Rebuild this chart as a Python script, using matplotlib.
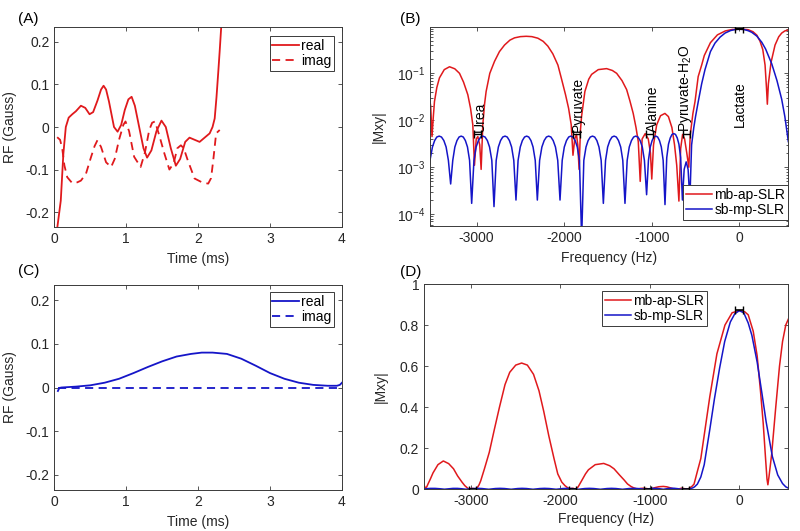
import matplotlib
matplotlib.use("Agg")
import matplotlib.pyplot as plt
import numpy as np

plt.rcParams['font.family'] = ['Liberation Sans', 'DejaVu Sans']
plt.rcParams['mathtext.fontset'] = 'custom'
plt.rcParams['mathtext.rm'] = 'Liberation Sans'
plt.rcParams['mathtext.it'] = 'Liberation Sans:italic'
plt.rcParams['axes.unicode_minus'] = False
plt.rcParams['font.size'] = 10

RED = '#e0191c'
BLUE = '#1515c8'
GRAY = '#3a3a3a'

# ---------------- Panel A: multiband pulse (real / imag) ----------------
tA_real = [0.03, 0.042, 0.09, 0.126, 0.16, 0.2, 0.25, 0.3, 0.37, 0.43, 0.49, 0.54, 0.6, 0.65,
           0.685, 0.72, 0.76, 0.83, 0.88, 0.93, 0.98, 1.03, 1.075, 1.12, 1.18, 1.24, 1.29,
           1.35, 1.42, 1.49, 1.55, 1.62, 1.69, 1.75, 1.82, 1.88, 1.95, 2.02, 2.09, 2.16,
           2.2, 2.23, 2.255, 2.28, 2.3, 2.33]
vA_real = [-0.26, -0.236, -0.173, -0.063, 0.0, 0.022, 0.03, 0.037, 0.05, 0.045, 0.03, 0.035,
           0.062, 0.088, 0.097, 0.088, 0.06, 0.0, -0.011, 0.005, 0.04, 0.065, 0.071, 0.05,
           0.0, -0.05, -0.072, -0.055, -0.01, 0.015, 0.0, -0.05, -0.091, -0.075, -0.035,
           -0.025, -0.03, -0.035, -0.025, -0.015, 0.0, 0.02, 0.07, 0.13, 0.18, 0.26]
tA_imag = [0.04, 0.08, 0.11, 0.14, 0.18, 0.25, 0.32, 0.37, 0.44, 0.51, 0.56, 0.6, 0.65, 0.72,
           0.79, 0.84, 0.9, 0.96, 0.99, 1.04, 1.11, 1.2, 1.26, 1.32, 1.36, 1.40, 1.46, 1.53,
           1.6, 1.66, 1.71, 1.76, 1.8, 1.855, 1.95, 2.065, 2.14, 2.18, 2.21, 2.25, 2.3]
vA_imag = [-0.024, -0.03, -0.05, -0.09, -0.118, -0.132, -0.13, -0.126, -0.11, -0.071, -0.045,
           -0.031, -0.047, -0.083, -0.094, -0.075, -0.03, 0.005, 0.013, -0.01, -0.07, -0.094,
           -0.06, -0.007, 0.01, 0.013, -0.02, -0.062, -0.1, -0.085, -0.05, -0.043, -0.05,
           -0.078, -0.121, -0.131, -0.133, -0.12, -0.078, -0.015, -0.007]

# ---------------- Panel C: single band pulse ----------------
tC_real = [0.05, 0.07, 0.1, 0.3, 0.5, 0.7, 0.9, 1.1, 1.3, 1.5, 1.7, 1.9, 2.05, 2.2, 2.4, 2.6,
           2.8, 3.0, 3.2, 3.4, 3.6, 3.8, 3.93, 3.97, 4.0]
vC_real = [-0.008, -0.001, 0.0, 0.002, 0.005, 0.011, 0.02, 0.033, 0.047, 0.06, 0.071, 0.077,
           0.08, 0.08, 0.077, 0.066, 0.05, 0.033, 0.02, 0.011, 0.006, 0.004, 0.004, 0.006, 0.011]
tC_imag = [0.05, 3.95]
vC_imag = [0.0, 0.0]

# ---------------- Panels B / D: frequency profiles ----------------
f_red = [-3540, -3525, -3510, -3495, -3482, -3455, -3425, -3370, -3310, -3250,
         -3196, -3150, -3101, -3070, -3044, -3025, -3005, -2987, -2965, -2949,
         -2930, -2910, -2892, -2850, -2796, -2740, -2682, -2620, -2567, -2500,
         -2434, -2370, -2301, -2240, -2187, -2130, -2072, -2030, -1985, -1950,
         -1920, -1900, -1880, -1860, -1845, -1830, -1815, -1802, -1764, -1720,
         -1687, -1611, -1516, -1450, -1401, -1340, -1287, -1250, -1212, -1180,
         -1154, -1132, -1110, -1075, -1040, -1015, -1000, -980, -944, -900,
         -850, -810, -770, -740, -715, -690, -670, -648, -625, -600,
         -577, -560, -530, -506, -470, -430, -400, -330, -250, -160,
         -80, 0, 60, 100, 156, 200, 237, 268, 294, 310,
         320, 332, 362, 408, 450, 484, 520, 560]
v_red = [0.03, 0.02, 0.0045, 0.012, 0.025, 0.05, 0.08, 0.12, 0.138, 0.125,
         0.1, 0.065, 0.035, 0.018, 0.008, 0.0011, 0.004, 0.0045, 0.003, 0.0009,
         0.008, 0.022, 0.041, 0.1, 0.18, 0.29, 0.40, 0.51, 0.57, 0.605,
         0.615, 0.605, 0.56, 0.48, 0.38, 0.26, 0.15, 0.075, 0.035, 0.018,
         0.008, 0.0018, 0.004, 0.005, 0.003, 0.0009, 0.006, 0.012, 0.041, 0.075,
         0.095, 0.12, 0.126, 0.115, 0.1, 0.07, 0.045, 0.026, 0.014, 0.007,
         0.0035, 0.0005, 0.004, 0.0052, 0.004, 0.002, 0.00056, 0.003, 0.008, 0.0125,
         0.014, 0.012, 0.007, 0.003, 0.0011, 0.00019, 0.0025, 0.005, 0.004, 0.002,
         0.001, 0.005, 0.014, 0.025, 0.085, 0.15, 0.24, 0.45, 0.66, 0.80,
         0.86, 0.87, 0.865, 0.85, 0.77, 0.65, 0.48, 0.32, 0.15, 0.05,
         0.022, 0.06, 0.17, 0.40, 0.6, 0.72, 0.8, 0.84]

f_blue = [-3540, -3505, -3480, -3455, -3428, -3402, -3375, -3349, -3323, -3297,
          -3273, -3249, -3225, -3201, -3177, -3153, -3129, -3105, -3081, -3057,
          -3031, -3006, -2980, -2955, -2930, -2904, -2878, -2853, -2827, -2802,
          -2777, -2752, -2727, -2702, -2676, -2651, -2626, -2601, -2576, -2551,
          -2527, -2502, -2478, -2453, -2429, -2405, -2380, -2356, -2331, -2307,
          -2281, -2255, -2229, -2203, -2178, -2152, -2126, -2100, -2074, -2048,
          -2023, -1999, -1974, -1949, -1925, -1900, -1875, -1851, -1826, -1801,
          -1776, -1751, -1727, -1702, -1677, -1652, -1627, -1603, -1578, -1553,
          -1528, -1504, -1479, -1454, -1430, -1405, -1380, -1355, -1331, -1306,
          -1281, -1257, -1232, -1207, -1183, -1158, -1133, -1108, -1084, -1059,
          -1038, -1017, -996, -975, -954, -933, -912, -891, -870, -849,
          -829, -809, -789, -769, -749, -729, -709, -690, -670, -650,
          -630, -607, -585, -565,
          -545, -520, -500, -469, -430, -392, -330, -278, -220, -163, -100, -50,
          0, 50, 100, 141, 200, 256, 300, 370, 430, 484, 520, 560]
v_blue = [0.0012, 0.0027, 0.0037, 0.0044, 0.0046, 0.0044, 0.0037, 0.0027, 0.0014, 0.00044,
          0.0014, 0.0027, 0.0037, 0.0044, 0.0046, 0.0044, 0.0037, 0.0027, 0.0014, 0.00017,
          0.0014, 0.0027, 0.0037, 0.0044, 0.0046, 0.0044, 0.0037, 0.0027, 0.0014, 0.000145,
          0.0014, 0.0027, 0.0037, 0.0044, 0.0046, 0.0044, 0.0037, 0.0027, 0.0014, 0.0002,
          0.0014, 0.0027, 0.0037, 0.0044, 0.0046, 0.0044, 0.0037, 0.0027, 0.0014, 0.0002,
          0.0014, 0.0027, 0.0037, 0.0044, 0.0046, 0.0044, 0.0037, 0.0027, 0.0014, 0.0002,
          0.0014, 0.0027, 0.0037, 0.0044, 0.0046, 0.0044, 0.0037, 0.0027, 0.0014, 0.00003,
          0.0014, 0.0027, 0.0037, 0.0044, 0.0046, 0.0044, 0.0037, 0.0027, 0.0014, 0.00017,
          0.0014, 0.0027, 0.0037, 0.0044, 0.0046, 0.0044, 0.0037, 0.0027, 0.0014, 0.00017,
          0.0014, 0.0027, 0.0037, 0.0044, 0.0046, 0.0044, 0.0037, 0.0027, 0.0014, 0.00026,
          0.0014, 0.0027, 0.0037, 0.0044, 0.0046, 0.0044, 0.0037, 0.0027, 0.0014, 0.00016,
          0.0016, 0.0031, 0.0042, 0.0050, 0.0052, 0.0050, 0.0042, 0.0031, 0.0016, 0.0002,
          0.0009, 0.0013, 0.0009, 0.0002,
          0.003, 0.007, 0.012, 0.025, 0.06, 0.12, 0.29, 0.44, 0.59, 0.72, 0.815, 0.855,
          0.87, 0.86, 0.81, 0.75, 0.62, 0.46, 0.33, 0.16, 0.07, 0.028, 0.012, 0.0035]

# metabolite stop-bands and passband
band_names = ['Urea', 'Pyruvate', 'Alanine', 'Pyruvate-H$_2$O']
band_lo = [-3025, -1903, -1065, -645]
band_hi = [-2950, -1825, -985, -565]
label_x = [-2960, -1844, -988, -610]
stop_level = 0.005
pass_name = 'Lactate'
pass_lo, pass_hi = -45, 45
pass_level = 0.875


def style(ax):
    ax.tick_params(direction='in', which='both', top=True, right=True,
                   colors=GRAY, labelcolor='#262626', labelsize=10, width=0.6)
    ax.tick_params(which='major', length=3.2)
    ax.tick_params(which='minor', length=1.8)
    for s in ax.spines.values():
        s.set_color(GRAY)
        s.set_linewidth(0.7)


def legend(ax, handles, labels, loc, anchor):
    lg = ax.legend(handles, labels, loc=loc, bbox_to_anchor=anchor, borderaxespad=0,
                   fancybox=False, framealpha=1, edgecolor=GRAY, fontsize=10,
                   handlelength=1.9, handletextpad=0.15, borderpad=0.2, labelspacing=0.1)
    lg.get_frame().set_linewidth(0.7)
    return lg


fig = plt.figure(figsize=(8, 5.31), dpi=100)
W, H = 800.0, 531.0
axA = fig.add_axes([54.3 / W, (H - 227) / H, 287.7 / W, 200 / H])
axB = fig.add_axes([430 / W, (H - 226) / H, 358 / W, 199 / H])
axC = fig.add_axes([54.3 / W, (H - 490) / H, 287.7 / W, 205 / H])
axD = fig.add_axes([424 / W, (H - 489.3) / H, 364 / W, 205.3 / H])

# --- A
lA1, = axA.plot(tA_real, vA_real, color=RED, lw=1.3)
lA2, = axA.plot(tA_imag, vA_imag, color=RED, lw=1.3, dashes=(4.5, 3))
axA.set_xlim(0, 4)
axA.set_ylim(-0.235, 0.235)
axA.set_xticks([0, 1, 2, 3, 4])
axA.set_yticks([-0.2, -0.1, 0, 0.1, 0.2])
axA.set_yticklabels(['-0.2', '-0.1', '0', '0.1', '0.2'])
axA.set_xlabel('Time (ms)', color='#262626')
axA.set_ylabel('RF (Gauss)', color='#262626')
axA.xaxis.set_label_coords(0.5, -0.125)
axA.yaxis.set_label_coords(-0.13, 0.5)
style(axA)
legend(axA, [lA1, lA2], ['real', 'imag'], 'upper right', (0.972, 0.955))

# --- C
lC1, = axC.plot(tC_real, vC_real, color=BLUE, lw=1.3)
lC2, = axC.plot(tC_imag, vC_imag, color=BLUE, lw=1.3, dashes=(4.5, 3))
axC.set_xlim(0, 4)
axC.set_ylim(-0.235, 0.235)
axC.set_xticks([0, 1, 2, 3, 4])
axC.set_yticks([-0.2, -0.1, 0, 0.1, 0.2])
axC.set_yticklabels(['-0.2', '-0.1', '0', '0.1', '0.2'])
axC.set_xlabel('Time (ms)', color='#262626')
axC.set_ylabel('RF (Gauss)', color='#262626')
axC.xaxis.set_label_coords(0.5, -0.122)
axC.yaxis.set_label_coords(-0.13, 0.5)
style(axC)
legend(axC, [lC1, lC2], ['real', 'imag'], 'upper right', (0.972, 0.966))

# --- B (log)
lB1, = axB.plot(f_red, v_red, color=RED, lw=1.1)
lB2, = axB.plot(f_blue, v_blue, color=BLUE, lw=1.1)
axB.set_yscale('log')
axB.set_xlim(-3533, 556)
axB.set_ylim(5.6e-5, 0.97)
axB.set_xticks([-3000, -2000, -1000, 0])
axB.set_xticklabels(['-3000', '-2000', '-1000', '0'])
axB.set_yticks([1e-4, 1e-3, 1e-2, 1e-1])
for lo, hi in zip(band_lo, band_hi):
    axB.errorbar([(lo + hi) / 2], [stop_level], xerr=[(hi - lo) / 2], fmt='none',
                 ecolor='k', elinewidth=1.0, capsize=3, capthick=1.0, zorder=4)
axB.errorbar([(pass_lo + pass_hi) / 2], [pass_level], xerr=[(pass_hi - pass_lo) / 2],
             fmt='none', ecolor='k', elinewidth=1.5, capsize=3, capthick=1.0, zorder=4)
for name, x in zip(band_names, label_x):
    axB.text(x, stop_level * 1.12, name, rotation=90, ha='center', va='bottom',
             fontsize=10, color='k')
axB.text(8, 0.0072, pass_name, rotation=90, ha='center', va='bottom', fontsize=10, color='k')
axB.set_xlabel('Frequency (Hz)', color='#262626')
axB.set_ylabel('|Mxy|', color='#262626')
axB.xaxis.set_label_coords(0.5, -0.125)
axB.yaxis.set_label_coords(-0.123, 0.5)
style(axB)
legend(axB, [lB1, lB2], ['mb-ap-SLR', 'sb-mp-SLR'], 'lower right', (1.0, 0.03))

# --- D (linear)
lD1, = axD.plot(f_red, v_red, color=RED, lw=1.1)
lD2, = axD.plot(f_blue, v_blue, color=BLUE, lw=1.1)
axD.set_xlim(-3526, 545)
axD.set_ylim(0, 1)
axD.set_xticks([-3000, -2000, -1000, 0])
axD.set_xticklabels(['-3000', '-2000', '-1000', '0'])
axD.set_yticks([0, 0.2, 0.4, 0.6, 0.8, 1])
axD.set_yticklabels(['0', '0.2', '0.4', '0.6', '0.8', '1'])
for lo, hi in zip(band_lo, band_hi):
    axD.errorbar([(lo + hi) / 2], [0.0], xerr=[(hi - lo) / 2], fmt='none',
                 ecolor='k', elinewidth=1.2, capsize=2, capthick=1.0, zorder=4)
axD.errorbar([(pass_lo + pass_hi) / 2], [pass_level], xerr=[(pass_hi - pass_lo) / 2],
             fmt='none', ecolor='k', elinewidth=1.2, capsize=3, capthick=1.0, zorder=4)
axD.set_xlabel('Frequency (Hz)', color='#262626')
axD.set_ylabel('|Mxy|', color='#262626')
axD.xaxis.set_label_coords(0.5, -0.11)
axD.yaxis.set_label_coords(-0.10, 0.5)
style(axD)
legend(axD, [lD1, lD2], ['mb-ap-SLR', 'sb-mp-SLR'], 'upper right', (0.777, 0.966))

# panel letters
for txt, x, y in [('(A)', 18, 19), ('(B)', 400, 19), ('(C)', 18, 271), ('(D)', 400, 272)]:
    fig.text(x / W, 1 - y / H, txt, fontsize=11, va='center', ha='left', color='k')

fig.savefig('out.png', dpi=100)
